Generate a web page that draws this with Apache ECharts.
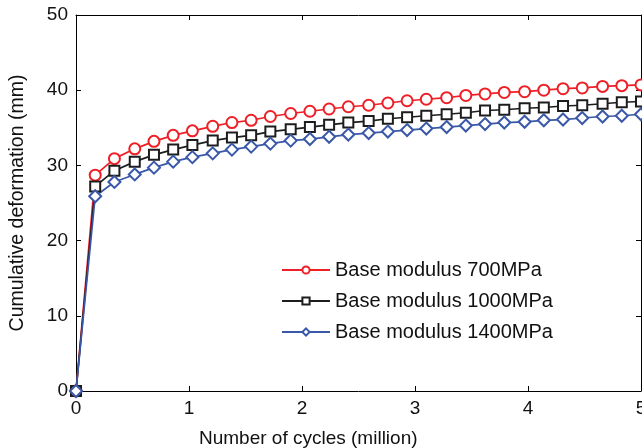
<!DOCTYPE html>
<html lang="en">
<head>
    <meta charset="UTF-8">
    <title>Cumulative deformation</title>
    <script src="https://cdn.jsdelivr.net/npm/echarts@6/dist/echarts.min.js"></script>
    <style type="text/css">
    html, body { margin: 0; padding: 0; background: #fff; }
    #main { width: 642px; height: 448px; }
    </style>
</head>
<body>
    <div id="main"></div>
    <script type="text/javascript">
        // number of cycles (million)
        var cycles = [0, 0.17, 0.34, 0.52, 0.69, 0.86, 1.03, 1.21, 1.38, 1.55,
            1.72, 1.90, 2.07, 2.24, 2.41, 2.59, 2.76, 2.93, 3.10, 3.28,
            3.45, 3.62, 3.79, 3.97, 4.14, 4.31, 4.48, 4.66, 4.83, 5.00];
        // cumulative deformation (mm)
        var mod700 = [0, 28.7, 30.9, 32.2, 33.2, 34.0, 34.6, 35.2, 35.7, 36.0,
            36.5, 36.9, 37.2, 37.5, 37.8, 38.0, 38.3, 38.6, 38.8, 39.0,
            39.3, 39.5, 39.7, 39.8, 40.0, 40.2, 40.3, 40.5, 40.6, 40.7];
        var mod1000 = [0, 27.2, 29.3, 30.5, 31.4, 32.1, 32.7, 33.3, 33.7, 34.0,
            34.5, 34.8, 35.1, 35.4, 35.7, 35.9, 36.2, 36.4, 36.6, 36.8,
            37.0, 37.3, 37.4, 37.6, 37.7, 37.9, 38.0, 38.2, 38.4, 38.5];
        var mod1400 = [0, 25.9, 27.8, 28.8, 29.7, 30.5, 31.1, 31.6, 32.1, 32.5,
            32.9, 33.3, 33.5, 33.8, 34.1, 34.3, 34.5, 34.7, 34.9, 35.1,
            35.3, 35.5, 35.7, 35.8, 36.0, 36.1, 36.3, 36.5, 36.6, 36.8];
        var names = ['Base modulus 700MPa', 'Base modulus 1000MPa', 'Base modulus 1400MPa'];

        function pairs(ys) {
            var out = [];
            for (var i = 0; i < cycles.length; i++) {
                out.push([cycles[i], ys[i]]);
            }
            return out;
        }

        var font = 'Liberation Sans, Arial, Helvetica, sans-serif';
        var myChart = echarts.init(document.getElementById('main'));

        function makeSeries(name, ys, color, symbol, size) {
            return {
                name: name,
                type: 'line',
                data: pairs(ys),
                symbol: symbol,
                symbolSize: size,
                showAllSymbol: true,
                clip: false,
                lineStyle: { color: color, width: 1.7 },
                itemStyle: { color: color, borderColor: color, borderWidth: 1.7 },
                emphasis: { disabled: true }
            };
        }

        var axisCommon = {
            type: 'value',
            axisLine: { show: true, onZero: false, lineStyle: { color: '#000', width: 1 } },
            axisTick: { show: true, inside: true, length: 5, lineStyle: { color: '#000' } },
            splitLine: { show: false }
        };

        var option = {
            backgroundColor: '#fff',
            animation: false,
            // x axis title sits left of centre in the original figure
            title: {
                text: 'Number of cycles (million)',
                left: 194,
                top: 424,
                textStyle: { fontFamily: font, fontSize: 19, fontWeight: 'normal', color: '#111' }
            },
            grid: { left: 76, right: 1, top: 15, bottom: 57, outerBoundsMode: 'none', containLabel: false },
            legend: {
                data: names,
                orient: 'vertical',
                left: 276,
                top: 255,
                itemWidth: 48,
                itemHeight: 9,
                itemGap: 11,
                textStyle: { fontFamily: font, fontSize: 20, color: '#111' }
            },
            xAxis: [
                Object.assign({}, axisCommon, {
                    min: 0, max: 5, interval: 1,
                    axisLabel: { fontFamily: font, fontSize: 19, color: '#111', margin: 8 }
                }),
                Object.assign({}, axisCommon, {
                    position: 'top', min: 0, max: 5, interval: 1,
                    axisLabel: { show: false }
                })
            ],
            yAxis: [
                Object.assign({}, axisCommon, {
                    min: 0, max: 50, interval: 10,
                    name: 'Cumulative deformation (mm)',
                    nameLocation: 'middle',
                    nameGap: 48,
                    nameTextStyle: { fontFamily: font, fontSize: 19.5, color: '#111' },
                    axisLabel: { fontFamily: font, fontSize: 19, color: '#111', margin: 8 }
                }),
                Object.assign({}, axisCommon, {
                    position: 'right', min: 0, max: 50, interval: 10,
                    axisLabel: { show: false }
                })
            ],
            series: [
                makeSeries(names[0], mod700, '#ee1f26', 'emptyCircle', 11),
                makeSeries(names[1], mod1000, '#1d1d1d', 'emptyRect', 10),
                makeSeries(names[2], mod1400, '#3a58a8', 'emptyDiamond', 12)
            ]
        };

        myChart.setOption(option);
    </script>
</body>
</html>
